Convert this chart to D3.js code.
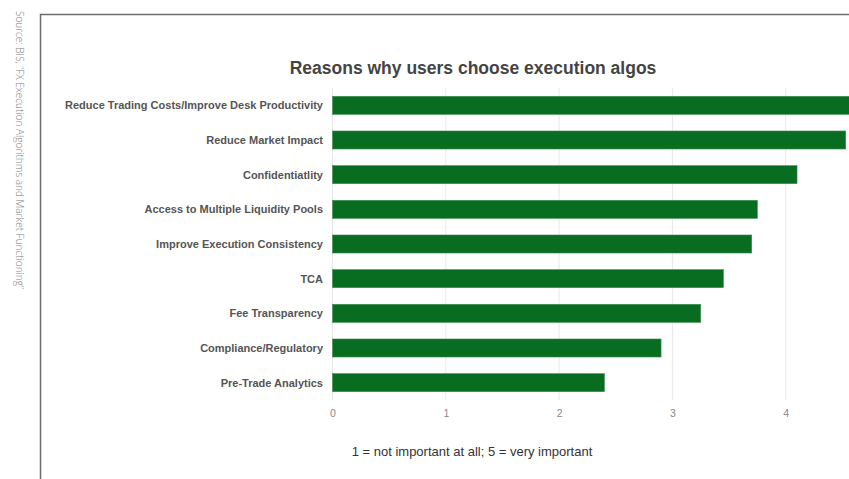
<!DOCTYPE html>
<html><head><meta charset="utf-8">
<script src="https://cdn.jsdelivr.net/npm/d3@7"></script>
<style>
html,body{margin:0;padding:0;background:#fff;overflow:hidden;}
svg{display:block;}
</style></head>
<body>
<svg id="chart" width="849" height="479"></svg>
<script>
const categories = [
  "Reduce Trading Costs/Improve Desk Productivity",
  "Reduce Market Impact",
  "Confidentiatlity",
  "Access to Multiple Liquidity Pools",
  "Improve Execution Consistency",
  "TCA",
  "Fee Transparency",
  "Compliance/Regulatory",
  "Pre-Trade Analytics"
];
const values = [4.65, 4.53, 4.1, 3.75, 3.7, 3.45, 3.25, 2.9, 2.4];
const tickValues = [0, 1, 2, 3, 4];
const titleText = "Reasons why users choose execution algos";
const captionText = "1 = not important at all; 5 = very important";
const sourceText = "Source: BIS, \u201cFX Execution Algorithms and Market Functioning\u201d";

const svg = d3.select("#chart");

// frame
svg.append("path").attr("d", "M40.5,479 L40.5,14.5 L849,14.5")
  .attr("fill", "none").attr("stroke", "#6e6e6e").attr("stroke-width", 1.5);

// source text rotated
svg.append("text")
  .attr("transform", "translate(19,11) rotate(90)")
  .attr("font-family", "'Open Sans', 'Liberation Sans', Arial, sans-serif")
  .attr("font-size", 10).attr("font-weight", 300)
  .attr("fill", "#808080")
  .attr("dominant-baseline", "middle")
  .text(sourceText);

const x = d3.scaleLinear().domain([0, 5]).range([332.5, 899]);
const y = d3.scaleBand().domain(categories).range([88, 400]).paddingInner(0.48).paddingOuter(0.24);

// gridlines
svg.append("g").selectAll("line").data(tickValues).join("line")
  .attr("x1", d => x(d)).attr("x2", d => x(d))
  .attr("y1", 88).attr("y2", 400)
  .attr("stroke", "#e8e8e8").attr("stroke-width", 1);

// bars
svg.append("g").selectAll("rect").data(values).join("rect")
  .attr("x", x(0))
  .attr("y", (d, i) => y(categories[i]))
  .attr("width", d => x(d) - x(0))
  .attr("height", y.bandwidth())
  .attr("fill", "#086d21")
  .attr("stroke", "#3f8c4f").attr("stroke-width", 0.6);

// category labels
svg.append("g").selectAll("text").data(categories).join("text")
  .attr("x", 323)
  .attr("y", d => y(d) + y.bandwidth() / 2)
  .attr("text-anchor", "end")
  .attr("dominant-baseline", "central")
  .attr("font-family", "'Liberation Sans', Arial, sans-serif")
  .attr("font-size", 11).attr("font-weight", "bold")
  .attr("fill", "#555")
  .text(d => d);

// x axis tick labels
const xAxis = d3.axisBottom(x).tickValues(tickValues).tickSize(0).tickPadding(0).tickFormat(d3.format("d"));
const gx = svg.append("g").attr("transform", "translate(0,410)").call(xAxis);
gx.select(".domain").remove();
gx.selectAll("text")
  .attr("font-family", "'Liberation Sans', Arial, sans-serif")
  .attr("font-size", 10.5).attr("fill", "#888");

// title
svg.append("text")
  .attr("x", 473).attr("y", 74)
  .attr("text-anchor", "middle")
  .attr("font-family", "'Liberation Sans', Arial, sans-serif")
  .attr("font-size", 17.5).attr("font-weight", "bold")
  .attr("fill", "#444")
  .text(titleText);

// caption
svg.append("text")
  .attr("x", 472).attr("y", 456)
  .attr("text-anchor", "middle")
  .attr("font-family", "'Liberation Sans', Arial, sans-serif")
  .attr("font-size", 13)
  .attr("fill", "#333")
  .text(captionText);
</script>
</body></html>
